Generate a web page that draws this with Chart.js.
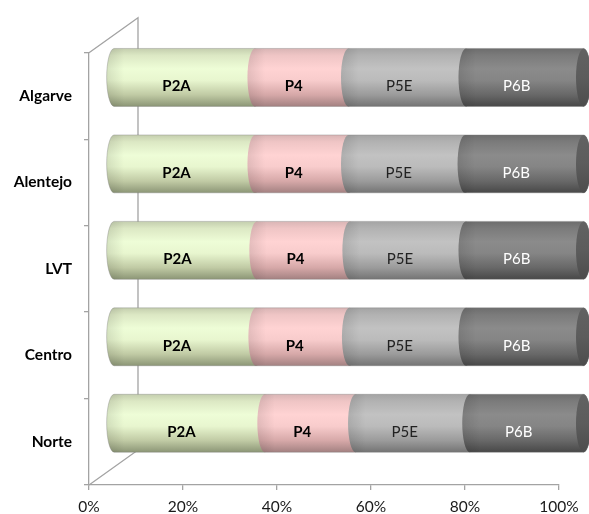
<!DOCTYPE html>
<html>
<head>
<meta charset="utf-8">
<script src="https://cdn.jsdelivr.net/npm/chart.js@4/dist/chart.umd.min.js"></script>
<style>
  html, body { margin: 0; padding: 0; background: #ffffff; }
  #wrap { width: 589px; height: 514px; }
</style>
</head>
<body>
<div id="wrap"><canvas id="chart" width="589" height="514"></canvas></div>
<script>
// Regions (top to bottom) and share of each profile, in percent
const regions = ['Algarve', 'Alentejo', 'LVT', 'Centro', 'Norte'];
const seriesNames = ['P2A', 'P4', 'P5E', 'P6B'];
const p2a = [30.1, 30.1, 30.5, 30.3, 32.2];
const p4  = [19.9, 19.9, 19.8, 19.9, 19.3];
const p5e = [25.0, 24.8, 24.7, 24.8, 24.3];
const p6b = [25.0, 25.2, 25.0, 25.0, 24.2];
const xTickValues = [0, 20, 40, 60, 80, 100];

// Depth of the 3D box and where the cylinders / their labels sit inside it
const DEPTH = { x: 49, y: -35 };
const BAR_SHIFT = { x: 24.5, y: -18.5 };
const LABEL_SHIFT = { x: 16.5, y: -9.5 };
const END_RX = 7.5;
const FONT = 'Lato, "Open Sans", "DejaVu Sans", sans-serif';

// Vertical shading of each cylinder (top -> bottom)
const shading = {
  P2A: ['#c4ceae', '#dce8c4', '#eefdd7', '#e8f6cf', '#c0caa4', '#8c9676'],
  P4:  ['#d9b5b5', '#efc5c5', '#ffd3d3', '#f8cccc', '#d6a8a8', '#a38181'],
  P5E: ['#a4a4a4', '#b2b2b2', '#c2c2c2', '#bbbbbb', '#9b9b9b', '#747474'],
  P6B: ['#6d6d6d', '#7b7b7b', '#8b8b8b', '#858585', '#686868', '#484848']
};
const stops = [0, 0.12, 0.35, 0.55, 0.8, 1];
const labelStyle = {
  P2A: { weight: 'bold', color: '#000000' },
  P4:  { weight: 'bold', color: '#000000' },
  P5E: { weight: 'normal', color: '#222222' },
  P6B: { weight: 'normal', color: '#ffffff' }
};

function capsulePath(ctx, x0, x1, yc, r, rx) {
  ctx.beginPath();
  ctx.ellipse(x0, yc, rx, r, 0, Math.PI / 2, Math.PI * 1.5);
  ctx.lineTo(x1, yc - r);
  ctx.ellipse(x1, yc, rx, r, 0, -Math.PI / 2, Math.PI / 2);
  ctx.closePath();
}

function shade(ctx, name, yc, r) {
  const g = ctx.createLinearGradient(0, yc - r, 0, yc + r);
  shading[name].forEach((c, i) => g.addColorStop(stops[i], c));
  return g;
}

// Box walls behind the cylinders
const depthFrame = {
  id: 'depthFrame',
  beforeDatasetsDraw(chart) {
    const { ctx, chartArea: a } = chart;
    ctx.save();
    ctx.strokeStyle = '#a3a3a3';
    ctx.lineWidth = 1.3;
    ctx.beginPath();
    ctx.moveTo(a.left, a.top);
    ctx.lineTo(a.left + DEPTH.x, a.top + DEPTH.y);
    ctx.lineTo(a.left + DEPTH.x, a.bottom + DEPTH.y);
    ctx.lineTo(a.left, a.bottom);
    ctx.stroke();
    ctx.restore();
  }
};

// Cylinders drawn from the bar elements laid out by the scales
const cylinders = {
  id: 'cylinders',
  afterDatasetsDraw(chart) {
    const { ctx } = chart;
    const n = chart.data.labels.length;
    ctx.save();
    ctx.translate(BAR_SHIFT.x, BAR_SHIFT.y);
    for (let i = 0; i < n; i++) {
      const segs = [];
      chart.data.datasets.forEach((ds, d) => {
        const el = chart.getDatasetMeta(d).data[i];
        const p = el.getProps(['x', 'y', 'base', 'height'], true);
        segs.push({ name: ds.label, x0: Math.min(p.base, p.x), x1: Math.max(p.base, p.x), y: p.y, r: p.height / 2 });
      });
      segs.sort((a, b) => a.x0 - b.x0);
      segs.forEach(s => {
        capsulePath(ctx, s.x0, s.x1, s.y, s.r, END_RX);
        ctx.fillStyle = shade(ctx, s.name, s.y, s.r);
        ctx.fill();
        // slight darkening along the seam at the left end of each segment
        const eg = ctx.createLinearGradient(s.x0 - END_RX, 0, s.x0 + 10, 0);
        eg.addColorStop(0, 'rgba(0,0,0,0.10)');
        eg.addColorStop(1, 'rgba(0,0,0,0)');
        ctx.fillStyle = eg;
        ctx.fill();
      });
      // end cap on the right
      const last = segs[segs.length - 1];
      ctx.beginPath();
      ctx.ellipse(last.x1, last.y, END_RX, last.r, 0, 0, Math.PI * 2);
      const cg = ctx.createLinearGradient(0, last.y - last.r, 0, last.y + last.r);
      cg.addColorStop(0, '#626262');
      cg.addColorStop(0.5, '#5c5c5c');
      cg.addColorStop(1, '#4c4c4c');
      ctx.fillStyle = cg;
      ctx.fill();
      // thin outline of the whole cylinder
      const first = segs[0];
      capsulePath(ctx, first.x0, last.x1, first.y, first.r, END_RX);
      ctx.strokeStyle = 'rgba(120,120,120,0.35)';
      ctx.lineWidth = 1;
      ctx.stroke();
    }
    ctx.restore();

    // series labels on the front face of each cylinder
    ctx.save();
    ctx.textAlign = 'center';
    ctx.textBaseline = 'middle';
    chart.data.datasets.forEach((ds, d) => {
      const st = labelStyle[ds.label];
      ctx.font = st.weight + ' 15px ' + FONT;
      ctx.fillStyle = st.color;
      chart.getDatasetMeta(d).data.forEach(el => {
        const p = el.getProps(['x', 'y', 'base'], true);
        const cx = (p.x + p.base) / 2 + LABEL_SHIFT.x;
        ctx.fillText(ds.label, cx, p.y + LABEL_SHIFT.y);
      });
    });
    ctx.restore();
  }
};

const values = [p2a, p4, p5e, p6b];
const datasets = seriesNames.map((name, k) => ({
  label: name,
  data: values[k],
  backgroundColor: 'rgba(0,0,0,0)',
  borderWidth: 0,
  clip: false
}));

new Chart(document.getElementById('chart'), {
  type: 'bar',
  data: { labels: regions, datasets },
  options: {
    indexAxis: 'y',
    responsive: false,
    animation: false,
    devicePixelRatio: 1,
    layout: { padding: { top: 52.7, right: 30, bottom: 0, left: 0 } },
    datasets: { bar: { barPercentage: 0.67, categoryPercentage: 1 } },
    plugins: { legend: { display: false }, tooltip: { enabled: false } },
    scales: {
      x: {
        type: 'linear',
        stacked: true,
        min: 0,
        max: 100,
        afterBuildTicks: s => { s.ticks = xTickValues.map(v => ({ value: v })); },
        afterFit: s => { s.height = 29; },
        ticks: {
          callback: v => v + '%',
          font: { family: FONT, size: 15.5 },
          color: '#1a1a1a',
          padding: 8,
          maxRotation: 0
        },
        grid: { drawOnChartArea: false, drawTicks: true, tickLength: 5, color: '#a3a3a3', lineWidth: 1.3 },
        border: { color: '#a3a3a3', width: 1.3 }
      },
      y: {
        type: 'category',
        stacked: true,
        afterFit: s => { s.width = 89; },
        ticks: {
          font: { family: FONT, size: 15.5, weight: 'bold' },
          color: '#000000',
          padding: 12
        },
        grid: { offset: true, drawOnChartArea: false, drawTicks: true, tickLength: 5, color: '#a3a3a3', lineWidth: 1.3 },
        border: { color: '#a3a3a3', width: 1.3 }
      }
    }
  },
  plugins: [depthFrame, cylinders]
});
</script>
</body>
</html>
